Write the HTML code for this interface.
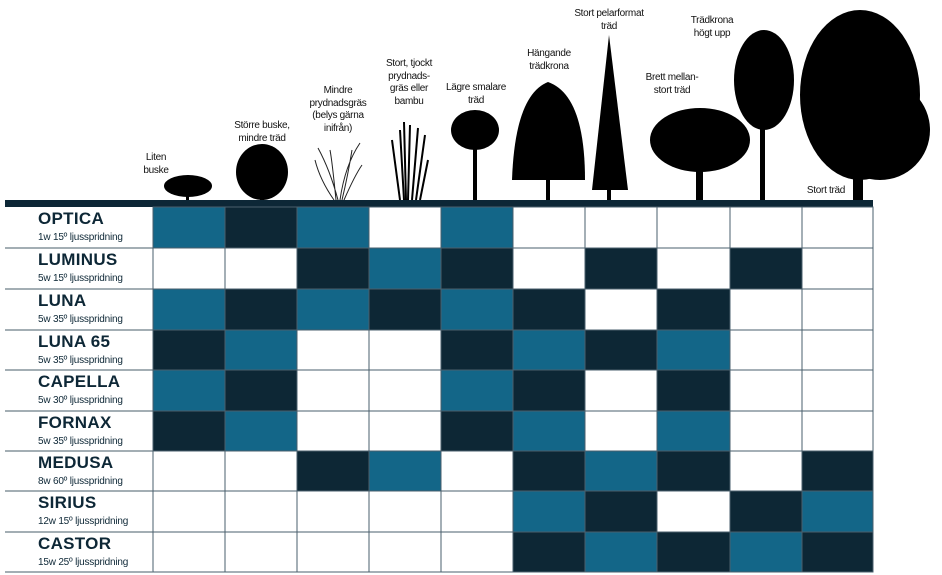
<!DOCTYPE html>
<html><head><meta charset="utf-8"><style>
body{margin:0;background:#fff;width:942px;height:575px;overflow:hidden;position:relative;font-family:"Liberation Sans",sans-serif}
.lb{position:absolute;font-size:10px;line-height:12.5px;text-align:center;color:#111;transform:translateX(-50%);white-space:nowrap;letter-spacing:-0.3px}
.name{position:absolute;left:38px;font-size:17px;font-weight:bold;color:#0d2736;letter-spacing:0.3px}
.sub{position:absolute;left:38px;font-size:10px;color:#0d2736;letter-spacing:-0.2px}
</style></head><body>
<svg width="942" height="575" style="position:absolute;left:0;top:0">
<g fill="#000">
<!-- liten buske -->
<ellipse cx="188" cy="186" rx="24" ry="11"/><rect x="186" y="186" width="3" height="14"/>
<!-- större buske -->
<ellipse cx="262" cy="172" rx="26" ry="28"/><rect x="260" y="185" width="4" height="15"/>
<!-- grass -->
<g stroke="#222" stroke-width="1" fill="none">
<path d="M338 200 Q330 170 318 148M340 200 Q345 165 360 143M336 200 Q332 160 330 150M342 200 Q348 175 352 150M334 200 Q320 180 315 160M344 200 Q355 175 362 165"/>
</g>
<g stroke="#000" stroke-width="2" fill="none">
<path d="M404 200 L400 130M408 200 L410 125M412 200 L418 128M416 200 L425 135M400 200 L392 140M420 200 L428 160M406 200 L404 122"/>
</g>
<!-- lägre smalare -->
<ellipse cx="475" cy="130" rx="24" ry="20"/><rect x="473" y="140" width="4" height="60"/>
<!-- hängande -->
<path d="M548 82 Q515 95 512 180 L585 180 Q585 95 548 82Z"/><rect x="546" y="170" width="4" height="30"/>
<!-- pelar -->
<path d="M609 35 L592 190 L628 190Z"/><rect x="607" y="185" width="4" height="15"/>
<!-- brett -->
<ellipse cx="700" cy="140" rx="50" ry="32"/><rect x="696" y="150" width="7" height="50"/>
<!-- trädkrona högt upp -->
<ellipse cx="764" cy="80" rx="30" ry="50"/><rect x="760" y="110" width="5" height="90"/>
<!-- stort träd -->
<ellipse cx="860" cy="95" rx="60" ry="85"/><ellipse cx="880" cy="130" rx="50" ry="50"/><rect x="853" y="160" width="10" height="40"/>
</g>
<rect x="5" y="200" width="868" height="7" fill="#0d2736"/>
<g id="g"></g>
</svg>
<div class="lb" style="left:156px;top:152px">Liten<br>buske</div>
<div class="lb" style="left:262px;top:120px">Större buske,<br>mindre träd</div>
<div class="lb" style="left:338px;top:85px">Mindre<br>prydnadsgräs<br>(belys gärna<br>inifrån)</div>
<div class="lb" style="left:409px;top:58px">Stort, tjockt<br>prydnads-<br>gräs eller<br>bambu</div>
<div class="lb" style="left:476px;top:82px">Lägre smalare<br>träd</div>
<div class="lb" style="left:549px;top:48px">Hängande<br>trädkrona</div>
<div class="lb" style="left:609px;top:8px">Stort pelarformat<br>träd</div>
<div class="lb" style="left:672px;top:72px">Brett mellan-<br>stort träd</div>
<div class="lb" style="left:712px;top:15px">Trädkrona<br>högt upp</div>
<div class="lb" style="left:826px;top:185px">Stort träd</div>
<div id="n"></div>
<script>
var rows=[["OPTICA","1w 15º ljusspridning","BDBWBWWWWW"],["LUMINUS","5w 15º ljusspridning","WWDBDWDWDW"],["LUNA","5w 35º ljusspridning","BDBDBDWDWW"],["LUNA 65","5w 35º ljusspridning","DBWWDBDBWW"],["CAPELLA","5w 30º ljusspridning","BDWWBDWDWW"],["FORNAX","5w 35º ljusspridning","DBWWDBWBWW"],["MEDUSA","8w 60º ljusspridning","WWDBWDBDWD"],["SIRIUS","12w 15º ljusspridning","WWWWWBDWDB"],["CASTOR","15w 25º ljusspridning","WWWWWDBDBD"]];
var ys=[207,248,289,330,370,411,451,491,532,572],xs=[153,225,297,369,441,513,585,657,730,802,873];
var s="",h="",col={B:"#136688",D:"#0d2735",W:"#fff"};
rows.forEach(function(r,i){var y=ys[i],hh=ys[i+1]-y;
for(var j=0;j<10;j++){s+='<rect x="'+xs[j]+'" y="'+y+'" width="'+(xs[j+1]-xs[j])+'" height="'+hh+'" fill="'+col[r[2][j]]+'" stroke="#4a5f6c" stroke-width="1"/>';}
s+='<line x1="5" y1="'+(y+hh)+'" x2="153" y2="'+(y+hh)+'" stroke="#6c7d88" stroke-width="1.2"/>';
h+='<div class="name" style="top:'+(y+2)+'px">'+r[0]+'</div><div class="sub" style="top:'+(y+25)+'px">'+r[1]+'</div>';});
document.getElementById("g").innerHTML=s;document.getElementById("n").innerHTML=h;
</script>
</body></html>
